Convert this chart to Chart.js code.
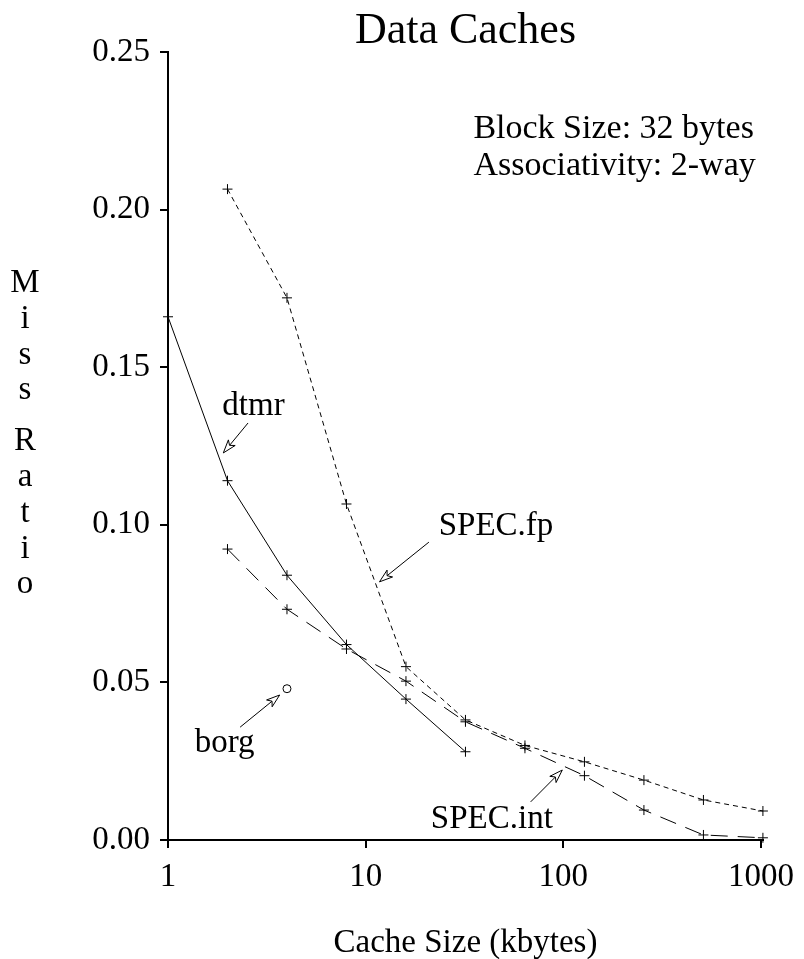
<!DOCTYPE html>
<html>
<head>
<meta charset="UTF-8">
<title>Data Caches</title>
<script src="https://cdn.jsdelivr.net/npm/chart.js"></script>
<style>
  body { margin: 0; background: #fff; }
  canvas { display: block; }
</style>
</head>
<body>
<canvas id="chart" width="804" height="959"></canvas>
<script>
  // cache sizes (kbytes)
  const sizesDtmr = [1, 2, 4, 8, 16, 32];
  const sizesSpec = [2, 4, 8, 16, 32, 64, 128, 256, 512, 1024];
  const sizesBorg = [4];

  // miss ratios
  const dtmr    = [0.166, 0.114, 0.084, 0.062, 0.0447, 0.028];
  const specFp  = [0.2065, 0.172, 0.1066, 0.055, 0.0381, 0.030, 0.0248, 0.019, 0.0127, 0.0092];
  const specInt = [0.0923, 0.0732, 0.0606, 0.0504, 0.0375, 0.0291, 0.0204, 0.0095, 0.0016, 0.0007];
  const borg    = [0.048];

  const xTicks = [1, 10, 100, 1000];
  const yTicks = [0, 0.05, 0.10, 0.15, 0.20, 0.25];

  // curve labels: text position and arrow (from -> tip), in data coords
  const labels = [
    { text: 'dtmr',     x: 1.884, y: 0.1348, from: [2.541, 0.1323], to: [1.905, 0.1228] },
    { text: 'SPEC.fp',  x: 23.44, y: 0.0968, from: [20.9, 0.0945],  to: [11.75, 0.0819] },
    { text: 'borg',     x: 1.365, y: 0.0279, from: [2.317, 0.0358], to: [3.673, 0.046] },
    { text: 'SPEC.int', x: 21.38, y: 0.0038, from: [68.4, 0.0121],  to: [98.9, 0.0222] }
  ];
  const notes = [
    { text: 'Block Size: 32 bytes', x: 35.1, y: 0.2227 },
    { text: 'Associativity: 2-way', x: 35.1, y: 0.2110 }
  ];
  const yTitle = ['M', 'i', 's', 's', 'R', 'a', 't', 'i', 'o'];

  const FONT = '"Liberation Serif", "Times New Roman", serif';

  function pts(xs, ys) {
    return xs.map((x, i) => ({ x: x, y: ys[i] }));
  }

  const textPlugin = {
    id: 'texts',
    afterDraw(chart) {
      const ctx = chart.ctx;
      const xs = chart.scales.x, ys = chart.scales.y;
      const area = chart.chartArea;
      ctx.save();
      ctx.fillStyle = '#000';
      ctx.strokeStyle = '#000';

      // title
      ctx.font = '44px ' + FONT;
      ctx.textAlign = 'center';
      ctx.textBaseline = 'alphabetic';
      ctx.fillText('Data Caches', (area.left + area.right) / 2, 43);

      // x title
      ctx.font = '33px ' + FONT;
      ctx.fillText('Cache Size (kbytes)', (area.left + area.right) / 2, 952);

      // y title, stacked letters
      yTitle.forEach((ch, i) => {
        ctx.fillText(ch, 25, 292 + i * 35.8 + (i >= 4 ? 15 : 0));
      });

      // notes
      ctx.font = '34px ' + FONT;
      ctx.textAlign = 'left';
      notes.forEach(n => {
        ctx.fillText(n.text, xs.getPixelForValue(n.x), ys.getPixelForValue(n.y));
      });

      // curve labels with open-headed arrows
      ctx.font = '33px ' + FONT;
      ctx.lineWidth = 1;
      labels.forEach(l => {
        ctx.fillText(l.text, xs.getPixelForValue(l.x), ys.getPixelForValue(l.y));
        const x0 = xs.getPixelForValue(l.from[0]), y0 = ys.getPixelForValue(l.from[1]);
        const x1 = xs.getPixelForValue(l.to[0]), y1 = ys.getPixelForValue(l.to[1]);
        const ang = Math.atan2(y1 - y0, x1 - x0);
        const len = 14, spread = 0.32;
        const ax = x1 - len * Math.cos(ang - spread), ay = y1 - len * Math.sin(ang - spread);
        const bx = x1 - len * Math.cos(ang + spread), by = y1 - len * Math.sin(ang + spread);
        const mx = x1 - len * 0.7 * Math.cos(ang), my = y1 - len * 0.7 * Math.sin(ang);
        ctx.beginPath();
        ctx.moveTo(x0, y0);
        ctx.lineTo(mx, my);
        ctx.stroke();
        ctx.beginPath();
        ctx.moveTo(x1, y1);
        ctx.lineTo(ax, ay);
        ctx.lineTo(mx, my);
        ctx.lineTo(bx, by);
        ctx.closePath();
        ctx.fillStyle = '#fff';
        ctx.fill();
        ctx.stroke();
        ctx.fillStyle = '#000';
      });
      ctx.restore();
    }
  };

  const common = {
    borderColor: '#000',
    borderWidth: 1,
    pointStyle: 'cross',
    pointRadius: 5,
    pointBorderWidth: 1,
    pointBorderColor: '#000',
    fill: false,
    tension: 0,
    clip: false
  };

  new Chart(document.getElementById('chart').getContext('2d'), {
    type: 'line',
    data: {
      datasets: [
        Object.assign({ label: 'dtmr', data: pts(sizesDtmr, dtmr) }, common),
        Object.assign({ label: 'SPEC.fp', data: pts(sizesSpec, specFp), borderDash: [5, 4] }, common),
        Object.assign({ label: 'SPEC.int', data: pts(sizesSpec, specInt), borderDash: [17, 10] }, common),
        Object.assign({}, common, { label: 'borg', data: pts(sizesBorg, borg), showLine: false,
          pointStyle: 'circle', pointRadius: 4, pointBackgroundColor: '#fff' })
      ]
    },
    options: {
      responsive: false,
      animation: false,
      layout: { padding: { left: 0, right: 34, top: 52, bottom: 0 } },
      plugins: {
        legend: { display: false },
        tooltip: { enabled: false }
      },
      scales: {
        x: {
          type: 'logarithmic',
          min: 1,
          max: 1024,
          afterBuildTicks: s => { s.ticks = xTicks.map(v => ({ value: v })); },
          afterFit: s => { s.height = 119; },
          ticks: {
            color: '#000',
            font: { family: FONT, size: 33 },
            padding: 10,
            maxRotation: 0,
            autoSkip: false,
            callback: v => String(v)
          },
          grid: { drawOnChartArea: false, drawTicks: true, tickLength: 8, color: '#000', lineWidth: 2 },
          border: { display: true, color: '#000', width: 2 }
        },
        y: {
          min: 0,
          max: 0.25,
          afterBuildTicks: s => { s.ticks = yTicks.map(v => ({ value: v })); },
          afterFit: s => { s.width = 168; },
          ticks: {
            color: '#000',
            font: { family: FONT, size: 33 },
            padding: 10,
            callback: v => Number(v).toFixed(2)
          },
          grid: { drawOnChartArea: false, drawTicks: true, tickLength: 8, color: '#000', lineWidth: 2 },
          border: { display: true, color: '#000', width: 2 }
        }
      }
    },
    plugins: [textPlugin]
  });
</script>
</body>
</html>
